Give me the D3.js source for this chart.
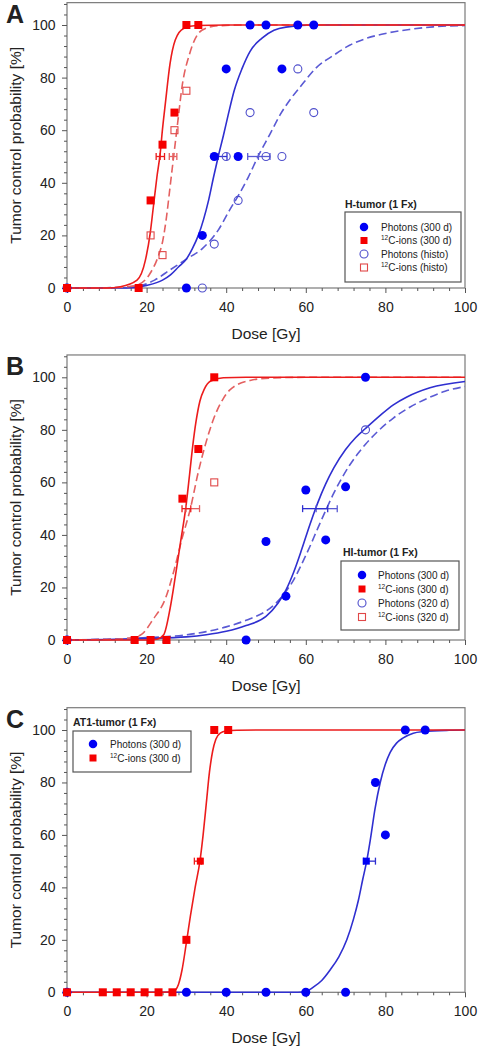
<!DOCTYPE html>
<html><head><meta charset="utf-8">
<script src="https://cdn.jsdelivr.net/npm/d3@7"></script>
<style>
body{margin:0;background:#fff}
svg{display:block}
text{font-family:"Liberation Sans",Arial,sans-serif;fill:#222}
</style>
</head><body>
<svg id="c" width="482" height="1050"></svg>
<script>
// ---------------- DATA ----------------
const doseTicks = [0, 20, 40, 60, 80, 100];
const tcpTicks = [0, 20, 40, 60, 80, 100];
const panelLetters = ["A", "B", "C"];
const panelTitles = ["H-tumor (1 Fx)", "HI-tumor (1 Fx)", "AT1-tumor (1 Fx)"];

// Panel A: H-tumor
const aPhotons300 = [[0,0],[30,0],[34,20],[37,50],[43,50],[40,83.3],[54,83.3],[46,100],[50,100],[58,100],[62,100]];
const aIons300 = [[0,0],[18,0],[21,33.3],[24,54.5],[27,66.7],[30,100],[33,100]];
const aPhotonsHisto = [[34,0],[37,16.7],[43,33.3],[40,50],[50,50],[54,50],[46,66.7],[62,66.7],[58,83.3]];
const aIonsHisto = [[21,20],[24,12.5],[27,60],[30,75]];
const aPhotons300Fit = [[0,0],[15,0],[20,1],[24,3],[26,5],[28,8],[30,11],[31.5,15],[33,20],[34.3,26],[35.6,33.5],[36.8,42],[38,50],[39.3,58],[40.6,66.5],[42,75],[44,83.5],[46,90],[49,95],[52,98],[55,99.2],[62,100],[100,100]];
const aIons300Fit = [[0,0],[10,0],[13.4,0.5],[17.6,3],[19.7,10.6],[20.9,20.8],[21.7,30.9],[22.6,42.3],[23.4,51],[24,60.5],[24.7,70],[25.9,85.4],[27.2,94.3],[29.3,98.7],[32.6,99.8],[40,100],[100,100]];
const aPhotonsHistoFit = [[0,0],[10,0.1],[14,0.3],[18,0.8],[22,3],[26,7],[30,11],[34,15],[38,22],[41,30],[43,35],[45.5,42],[48,50],[51,58.5],[53.6,66],[56,71.5],[58.6,76.5],[62.8,84],[67,88.5],[71,92.3],[75,94.8],[80,96.8],[86,98.3],[92,99.3],[100,99.8]];
const aIonsHistoFit = [[0,0],[10,0],[14,0.3],[17.6,1.1],[20.9,5.6],[23,12.4],[24,17.5],[25,27],[25.9,38.5],[26.8,50],[27.9,64],[28.9,76.5],[30.8,89],[33,96.8],[35,98.8],[38,99.7],[45,100],[100,100]];
// ED50 markers [centre, low, high]
const aEd50Photons300 = [38, 36.8, 40.2];
const aEd50Ions300 = [23.4, 22.4, 24.5];
const aEd50PhotonsHisto = [48.1, 45.4, 51];
const aEd50IonsHisto = [26.6, 25.7, 27.6];

// Panel B: HI-tumor
const bPhotons300 = [[0,0],[45,0],[50,37.5],[55,16.7],[60,57.1],[65,38.1],[70,58.3],[75,100]];
const bIons300 = [[0,0],[17,0],[21,0],[25,0],[29,53.8],[33,72.7],[37,100]];
const bPhotons320 = [[75,80]];
const bIons320 = [[37,60]];
const bPhotons300Fit = [[0,0],[10,0.2],[20,0.6],[30,1.2],[35,2],[40,3.3],[45,5.5],[50,9],[53,14],[55,19],[57,26],[59,34.6],[61,43.8],[63,52.2],[65,59.4],[67,65.4],[70,72.5],[72.5,77],[75,80.5],[78.7,85.5],[82,89.5],[85.4,92.5],[91.2,96],[100,98.4]];
const bIons300Fit = [[0,0],[20,0],[22.6,0.3],[24.3,2],[25.9,12],[27.2,24],[28.5,37],[29.9,51],[30.8,63],[31.6,74],[32.4,83],[33.4,91],[34.5,95.5],[36,98.5],[39.3,99.8],[45,100],[100,100]];
const bPhotons320Fit = [[0,0],[10,0.3],[20,0.9],[30,2],[35,3.2],[40,5],[45,7.5],[50,11],[53,14.8],[55,18.5],[57,23],[59,29],[61,35.5],[63,42.5],[65.3,50.3],[67,55.8],[69,61.5],[71,66.5],[73,70.8],[75,74.5],[77.8,79],[82,84.5],[86,88.5],[91,92.3],[95,94.7],[100,96.5]];
const bIons320Fit = [[0,0],[10,0.2],[15,0.6],[18.4,1.8],[21.7,8],[24.7,15.7],[26.8,26],[28.9,38.6],[31,50],[33,64],[34.7,74],[36.8,84],[39.3,92],[41,95.3],[46,98.8],[51,99.7],[60,100],[100,100]];
const bEd50Photons300 = [62.3, 59.2, 65.5];
const bEd50Ions300 = [30.1, 28.9, 31.1];
const bEd50Photons320 = [65.3, 62.6, 67.9];
const bEd50Ions320 = [31.4, 29.9, 33.3];

// Panel C: AT1-tumor
const cPhotons300 = [[0,0],[30,0],[40,0],[50,0],[60,0],[70,0],[77.5,80],[80,60],[85,100],[90,100]];
const cIons300 = [[0,0],[9,0],[12.5,0],[16,0],[19.5,0],[23,0],[26.5,0],[30,20],[37,100],[40.5,100]];
const cPhotons300Fit = [[0,0],[58,0],[60,0.3],[61.9,2],[64,4.5],[66.1,8.5],[68.3,13.5],[70.3,20],[72,28],[73.2,35],[74.3,43],[75.3,50],[76.2,58],[77.4,70],[78.7,80],[80,87],[81.2,91.5],[82.8,95],[84.5,97],[87,98.8],[89.5,99.4],[96,99.9],[100,100]];
const cIons300Fit = [[0,0],[24,0],[26.8,0.5],[28,3],[28.9,8.5],[30.1,20],[31,29],[32.2,40],[33.4,50],[34.2,60],[35,72],[35.8,84],[36.6,92],[37.4,96.5],[38.5,98.8],[40,99.6],[42.7,99.9],[50,100],[100,100]];
const cEd50Photons300 = [75.2, 74.5, 77.5];
const cEd50Ions300 = [33.5, 32.0, 33.8];

// ---------------- STYLES ----------------
const ST = {
  ph:  {kind:"circle", fill:"#0000f5", stroke:"none", line:"#2f2fd0", dash:null},
  io:  {kind:"square", fill:"#f50000", stroke:"none", line:"#ec1c1c", dash:null},
  phO: {kind:"circle", fill:"none", stroke:"#4f4fcc", line:"#5a5ad4", dash:"8,4"},
  ioO: {kind:"square", fill:"none", stroke:"#e04848", line:"#e46060", dash:"8,4"}
};

const svg = d3.select("#c");
const X0 = 67, X1 = 465, YTOP = 108.5;

const panels = [
  {y0:288, y100:25, letter:panelLetters[0], title:panelTitles[0], ed50Mark:"tick",
   series:[
     {st:ST.phO, pts:aPhotonsHisto, fit:aPhotonsHistoFit, ed:aEd50PhotonsHisto},
     {st:ST.ph, pts:aPhotons300, fit:aPhotons300Fit, ed:aEd50Photons300},
     {st:ST.ioO, pts:aIonsHisto, fit:aIonsHistoFit, ed:aEd50IonsHisto},
     {st:ST.io, pts:aIons300, fit:aIons300Fit, ed:aEd50Ions300}],
   legend:{tx:345, ty:208, box:[345,212,461,282], rows:[227,240.5,254,267.5], sx:364, lx:381,
     items:[[ST.ph,"Photons (300 d)",false],[ST.io,"C-ions (300 d)",true],[ST.phO,"Photons (histo)",false],[ST.ioO,"C-ions (histo)",true]]}},
  {y0:640, y100:377.3, letter:panelLetters[1], title:panelTitles[1], ed50Mark:"none",
   series:[
     {st:ST.phO, pts:bPhotons320, fit:bPhotons320Fit, ed:bEd50Photons320},
     {st:ST.ph, pts:bPhotons300, fit:bPhotons300Fit, ed:bEd50Photons300},
     {st:ST.ioO, pts:bIons320, fit:bIons320Fit, ed:bEd50Ions320},
     {st:ST.io, pts:bIons300, fit:bIons300Fit, ed:bEd50Ions300}],
   legend:{tx:343, ty:556, box:[341,561,459,630], rows:[575,589,603,617], sx:362, lx:378,
     items:[[ST.ph,"Photons (300 d)",false],[ST.io,"C-ions (300 d)",true],[ST.phO,"Photons (320 d)",false],[ST.ioO,"C-ions (320 d)",true]]}},
  {y0:992.3, y100:730, letter:panelLetters[2], title:panelTitles[2], ed50Mark:"square",
   series:[
     {st:ST.ph, pts:cPhotons300, fit:cPhotons300Fit, ed:cEd50Photons300},
     {st:ST.io, pts:cIons300, fit:cIons300Fit, ed:cEd50Ions300}],
   legend:{tx:73, ty:726, box:[73,731,191,772], rows:[744,758], sx:93, lx:110,
     items:[[ST.ph,"Photons (300 d)",false],[ST.io,"C-ions (300 d)",true]]}}
];

function drawSymbol(g, kind, fill, stroke, cx, cy, size) {
  if (kind === "circle") {
    g.append("circle").attr("cx", cx).attr("cy", cy).attr("r", size/2)
      .attr("fill", fill).attr("stroke", stroke).attr("stroke-width", 1.1);
  } else {
    g.append("rect").attr("x", cx - size/2).attr("y", cy - size/2)
      .attr("width", size).attr("height", size)
      .attr("fill", fill).attr("stroke", stroke).attr("stroke-width", 1.1);
  }
}

panels.forEach((p, pi) => {
  const x = d3.scaleLinear().domain([0, 100]).range([X0, X1]);
  const y = d3.scaleLinear().domain([0, 100]).range([p.y0, p.y100]);
  const g = svg.append("g");
  const yTopPx = y(YTOP);

  const cid = "clip" + pi;
  svg.append("clipPath").attr("id", cid).append("rect")
    .attr("x", X0).attr("y", yTopPx).attr("width", X1 - X0).attr("height", p.y0 - yTopPx + 1);

  g.append("rect").attr("x", X0).attr("y", yTopPx).attr("width", X1 - X0).attr("height", p.y0 - yTopPx)
    .attr("fill", "none").attr("stroke", "#7a7a7a").attr("stroke-width", 1.2);

  const minorX = d3.range(0, 101, 4).filter(v => v % 20 !== 0);
  const minorY = d3.range(0, YTOP, 4).filter(v => v % 20 !== 0);
  const xa = d3.axisBottom(x).tickValues(doseTicks).tickSize(5).tickPadding(5).tickFormat(d3.format("d"));
  const xg = g.append("g").attr("transform", `translate(0,${p.y0})`).call(xa);
  const xm = d3.axisBottom(x).tickValues(minorX).tickSize(3).tickFormat("");
  const xmg = g.append("g").attr("transform", `translate(0,${p.y0})`).call(xm);
  const ya = d3.axisLeft(y).tickValues(tcpTicks).tickSize(5).tickPadding(6).tickFormat(d3.format("d"));
  const yg = g.append("g").attr("transform", `translate(${X0},0)`).call(ya);
  const ym = d3.axisLeft(y).tickValues(minorY).tickSize(3).tickFormat("");
  const ymg = g.append("g").attr("transform", `translate(${X0},0)`).call(ym);
  [xg, xmg, yg, ymg].forEach(a => {
    a.select(".domain").remove();
    a.selectAll("line").attr("stroke", "#555").attr("stroke-width", 1);
    a.selectAll("text").attr("font-size", 14).attr("fill", "#222")
      .attr("font-family", '"Liberation Sans",Arial,sans-serif');
  });
  xg.selectAll("text").attr("dy", null).attr("y", 23.5);
  yg.selectAll("text").attr("x", -11.5);

  g.append("text").attr("x", (X0 + X1) / 2).attr("y", p.y0 + 50.5).attr("text-anchor", "middle")
    .attr("font-size", 15.5).text("Dose [Gy]");
  g.append("text").attr("transform", `translate(20.5,${(p.y0 + yTopPx) / 2}) rotate(-90)`)
    .attr("text-anchor", "middle").attr("font-size", 15.5).text("Tumor control probability [%]");
  g.append("text").attr("x", 6).attr("y", yTopPx + 20).attr("font-size", 25).attr("font-weight", "bold")
    .attr("fill", "#000").text(p.letter);

  const line = d3.line().x(d => x(d[0])).y(d => y(d[1])).curve(d3.curveMonotoneX);
  const fits = g.append("g").attr("clip-path", `url(#${cid})`);
  p.series.forEach(s => {
    fits.append("path").datum(s.fit).attr("d", line).attr("fill", "none")
      .attr("stroke", s.st.line).attr("stroke-width", 1.6)
      .attr("stroke-dasharray", s.st.dash);
  });

  p.series.forEach(s => {
    const [c, lo, hi] = s.ed;
    const yy = y(50);
    const col = s.st.line;
    g.append("line").attr("x1", x(lo)).attr("x2", x(hi)).attr("y1", yy).attr("y2", yy)
      .attr("stroke", col).attr("stroke-width", 1.3);
    [lo, hi].forEach(v => g.append("line").attr("x1", x(v)).attr("x2", x(v))
      .attr("y1", yy - 3.5).attr("y2", yy + 3.5).attr("stroke", col).attr("stroke-width", 1.3));
    if (p.ed50Mark === "tick") {
      g.append("line").attr("x1", x(c)).attr("x2", x(c)).attr("y1", yy - 3.5).attr("y2", yy + 3.5)
        .attr("stroke", col).attr("stroke-width", 1.3);
    } else if (p.ed50Mark === "square") {
      drawSymbol(g, "square", s.st.kind === "circle" ? "#0000f5" : "#f50000", "none", x(c), yy, 7);
    }
  });

  p.series.forEach(s => {
    s.pts.forEach(d => {
      const size = s.st.kind === "circle" ? 9 : 8;
      drawSymbol(g, s.st.kind, s.st.fill, s.st.stroke, x(d[0]), y(d[1]), s.st.fill === "none" ? size - 1 : size);
    });
  });

  const L = p.legend;
  g.append("text").attr("x", L.tx).attr("y", L.ty).attr("font-size", 10.5).attr("font-weight", "bold")
    .attr("fill", "#111").text(p.title);
  g.append("rect").attr("x", L.box[0]).attr("y", L.box[1]).attr("width", L.box[2] - L.box[0])
    .attr("height", L.box[3] - L.box[1]).attr("fill", "#fff").attr("stroke", "#555").attr("stroke-width", 1.2);
  L.items.forEach((it, i) => {
    const [st, label, sup] = it;
    const cy = L.rows[i];
    drawSymbol(g, st.kind, st.fill, st.stroke, L.sx, cy, st.kind === "circle" ? (st.fill === "none" ? 8 : 8.5) : 7);
    const t = g.append("text").attr("x", L.lx).attr("y", cy + 3.6).attr("font-size", 10).attr("fill", "#333");
    if (sup) {
      t.append("tspan").attr("font-size", 6.5).attr("dy", -4).text("12");
      t.append("tspan").attr("dy", 4).text(label);
    } else {
      t.text(label);
    }
  });
});
</script>
</body></html>
